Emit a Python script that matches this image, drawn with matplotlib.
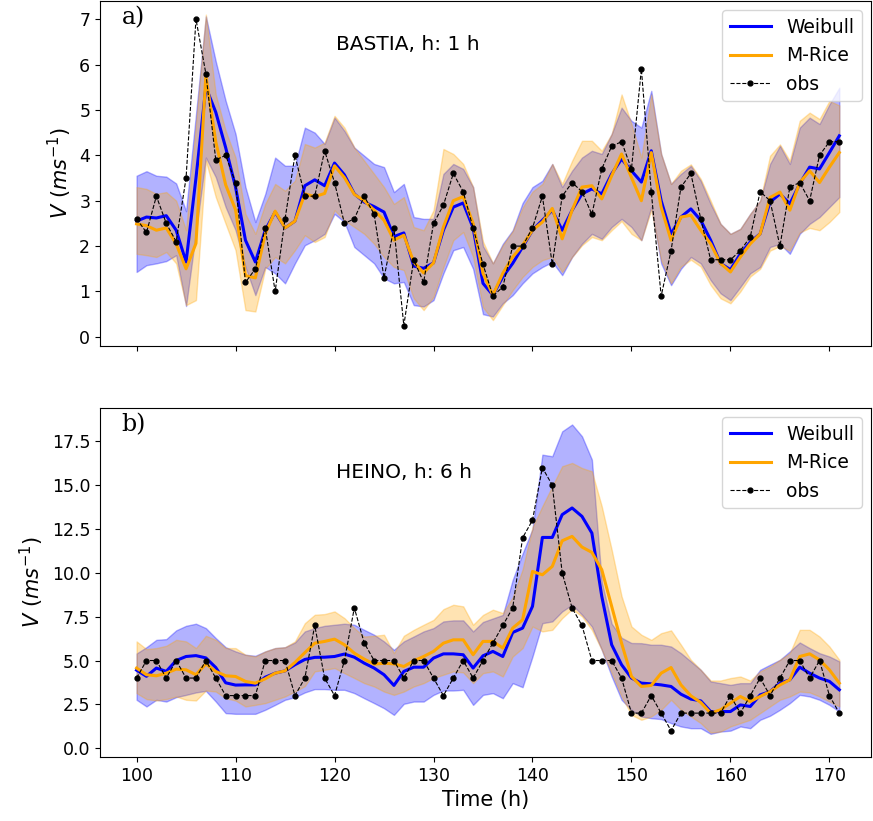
import matplotlib.pyplot as plt
import numpy as np

hours = np.arange(100, 172)

# ---- a) BASTIA, h: 1 h ----
obs_a = [2.6, 2.3, 3.1, 2.5, 2.1, 3.5, 7.0, 5.8, 3.9, 4.0,
         3.4, 1.2, 1.5, 2.4, 1.0, 2.6, 4.0, 3.1, 3.1, 4.1,
         3.4, 2.5, 2.6, 3.1, 2.7, 1.3, 2.4, 0.25, 1.7, 1.2,
         2.5, 2.9, 3.6, 3.2, 2.4, 1.6, 0.9, 1.1, 2.0, 2.0,
         2.4, 3.1, 1.6, 3.1, 3.4, 3.2, 2.7, 3.7, 4.2, 4.3,
         3.7, 5.9, 3.2, 0.9, 1.9, 3.3, 3.6, 2.6, 1.7, 1.7,
         1.7, 1.9, 2.2, 3.2, 3.0, 2.0, 3.3, 3.4, 3.0, 4.0,
         4.3, 4.3]
weib_a = [2.55, 2.64, 2.62, 2.67, 2.35, 1.65, 3.5, 5.5, 4.95, 4.17,
          3.3, 2.13, 1.65, 2.35, 2.75, 2.4, 2.55, 3.33, 3.46, 3.33,
          3.83, 3.57, 3.15, 2.97, 2.87, 2.75, 2.21, 2.29, 1.56, 1.51,
          1.63, 2.35, 2.86, 2.95, 2.4, 1.18, 0.92, 1.32, 1.62, 1.98,
          2.35, 2.57, 2.79, 2.35, 2.79, 3.15, 3.26, 3.15, 3.59, 3.92,
          3.66, 3.41, 4.1, 3.0, 2.27, 2.64, 2.82, 2.57, 2.13, 1.62,
          1.48, 1.83, 2.09, 2.27, 2.97, 3.15, 2.93, 3.37, 3.74, 3.7,
          4.06, 4.43]
weib_a_hi = [3.55, 3.65, 3.55, 3.53, 3.38, 2.77, 4.9, 7.06, 6.07, 5.2,
             4.47, 3.3, 2.53, 3.15, 3.95, 3.77, 3.77, 4.61, 4.5, 4.25,
             4.83, 4.54, 4.17, 3.99, 3.81, 3.74, 3.19, 3.37, 2.64, 2.6,
             2.6, 3.59, 3.81, 3.7, 3.3, 2.0, 1.62, 2.05, 2.35, 2.95,
             3.3, 3.44, 3.81, 3.3, 3.66, 3.95, 4.1, 4.03, 4.47, 5.05,
             4.76, 4.61, 5.42, 4.03, 3.37, 3.59, 3.77, 3.44, 2.93, 2.49,
             2.27, 2.38, 2.71, 3.0, 3.81, 4.21, 3.81, 4.61, 4.83, 4.69,
             5.12, 5.49]
weib_a_lo = [1.43, 1.58, 1.62, 1.67, 1.8, 0.68, 2.3, 3.95, 3.52, 2.86,
             2.35, 1.54, 0.92, 1.54, 1.4, 1.18, 1.62, 2.02, 2.13, 2.27,
             2.71, 2.53, 1.98, 1.8, 1.62, 1.29, 1.18, 1.21, 0.7, 0.67,
             0.81, 1.4, 1.91, 1.98, 1.5, 0.5, 0.45, 0.74, 0.92, 1.18,
             1.4, 1.54, 1.65, 1.36, 1.76, 2.05, 2.27, 2.16, 2.42, 2.6,
             2.42, 2.13, 2.86, 1.62, 1.14, 1.5, 1.76, 1.62, 1.25, 0.96,
             0.81, 1.1, 1.4, 1.54, 1.98, 2.05, 1.83, 2.27, 2.49, 2.64,
             2.86, 3.08]
rice_a = [2.49, 2.45, 2.35, 2.4, 2.05, 1.5, 2.06, 5.75, 4.3, 3.35,
          2.8, 1.35, 1.3, 2.27, 2.77, 2.4, 2.55, 3.15, 3.09, 3.16,
          3.77, 3.51, 3.14, 3.0, 2.79, 2.57, 2.13, 2.24, 1.65, 1.41,
          1.63, 2.42, 3.0, 3.09, 2.5, 1.4, 0.92, 1.4, 1.76, 2.02,
          2.35, 2.53, 2.83, 2.16, 2.79, 3.3, 3.33, 3.04, 3.55, 4.03,
          3.51, 3.0, 4.06, 2.86, 2.13, 2.64, 2.68, 2.35, 2.05, 1.62,
          1.43, 1.76, 2.05, 2.27, 3.07, 3.19, 2.79, 3.4, 3.66, 3.4,
          3.74, 4.06]
rice_a_hi = [3.3, 3.26, 3.15, 3.19, 3.0, 2.35, 4.7, 7.1, 5.34, 4.54,
             3.95, 2.71, 2.27, 2.93, 3.37, 3.22, 3.44, 4.25, 4.17, 4.28,
             4.87, 4.61, 4.17, 3.88, 3.59, 3.3, 2.93, 3.08, 2.42, 2.35,
             2.79, 4.14, 4.03, 3.81, 3.3, 2.1, 1.62, 2.02, 2.33, 2.85,
             3.2, 3.37, 3.81, 3.37, 3.88, 4.32, 4.32, 4.1, 4.47, 5.34,
             4.69, 3.95, 5.34, 4.03, 3.37, 3.66, 3.8, 3.48, 3.0, 2.49,
             2.27, 2.38, 2.71, 3.0, 3.99, 4.24, 3.88, 4.76, 4.94, 4.8,
             5.2, 5.1]
rice_a_lo = [1.83, 1.8, 1.76, 1.87, 1.62, 0.7, 0.81, 3.88, 3.08, 2.49,
             1.91, 0.59, 0.56, 1.5, 1.76, 1.62, 1.91, 2.24, 2.09, 2.2,
             2.79, 2.57, 2.42, 2.27, 2.05, 1.76, 1.54, 1.47, 0.85, 0.59,
             0.88, 1.54, 2.13, 2.31, 1.76, 0.65, 0.37, 0.7, 1.03, 1.32,
             1.54, 1.69, 1.76, 1.43, 1.76, 2.02, 2.2, 2.13, 2.35, 2.55,
             2.27, 2.13, 2.8, 1.69, 1.18, 1.55, 1.7, 1.55, 1.14, 0.85,
             0.74, 1.0, 1.33, 1.5, 1.9, 2.0, 1.9, 2.3, 2.4, 2.35,
             2.53, 2.75]

# ---- b) HEINO, h: 6 h ----
obs_b = [4, 5, 5, 4, 5, 4, 4, 5, 4, 3,
         3, 3, 3, 5, 5, 5, 3, 4, 7, 4,
         3, 5, 8, 6, 5, 5, 5, 4, 5, 5,
         4, 3, 4, 5, 4, 5, 6, 7, 8, 12,
         13, 16, 15, 10, 8, 7, 5, 5, 5, 4,
         2, 2, 3, 2, 1, 2, 2, 2, 2, 2,
         3, 2, 3, 4, 3, 4, 5, 5, 4, 5,
         3, 2]
weib_b = [4.45, 4.1, 4.57, 4.38, 5.0, 5.23, 5.28, 5.15, 4.6, 3.73,
          3.6, 3.61, 3.61, 4.05, 4.28, 4.41, 4.76, 5.06, 5.18, 5.19,
          5.23, 5.37, 5.19, 4.85, 4.57, 4.19, 3.58, 4.38, 4.62, 4.62,
          5.14, 5.38, 5.38, 5.33, 4.57, 5.27, 5.52, 5.23, 6.6, 6.85,
          8.09, 12.02, 12.02, 13.32, 13.7, 13.22, 12.27, 8.66, 5.9, 4.76,
          4.0, 3.71, 3.67, 3.61, 3.52, 3.08, 2.8, 2.7, 2.09, 2.09,
          2.09, 2.47, 2.38, 3.04, 3.23, 3.71, 3.9, 4.62, 4.28, 4.0,
          3.81, 3.33]
weib_b_hi = [5.4, 5.76, 6.18, 6.22, 6.72, 6.98, 7.1, 6.85, 6.28, 5.76,
             5.52, 5.33, 5.27, 5.52, 5.71, 5.76, 6.03, 6.66, 6.85, 6.98,
             7.04, 7.1, 7.04, 6.75, 6.47, 6.09, 5.61, 6.09, 6.37, 6.66,
             6.85, 7.23, 7.29, 7.29, 6.66, 7.2, 7.4, 7.6, 9.6, 11.1,
             12.5, 16.74, 16.65, 18.07, 18.46, 17.79, 16.46, 9.5, 7.1, 6.3,
             6.0, 5.99, 5.9, 5.9, 5.8, 5.42, 4.95, 4.47, 3.81, 3.71,
             3.61, 3.71, 3.71, 4.47, 4.76, 5.04, 5.52, 6.03, 5.71, 5.42,
             5.23, 4.95]
weib_b_lo = [2.76, 2.38, 2.76, 2.66, 2.91, 3.04, 3.18, 3.27, 2.66, 2.0,
             1.96, 1.96, 1.96, 2.19, 2.47, 2.76, 2.91, 3.18, 3.37, 3.37,
             3.33, 3.33, 3.14, 2.85, 2.57, 2.28, 1.9, 2.53, 2.66, 2.66,
             3.04, 3.29, 3.29, 3.33, 2.47, 3.04, 3.14, 2.85, 3.71, 3.48,
             5.23, 7.13, 7.23, 7.8, 8.18, 7.61, 6.94, 5.61, 4.09, 2.76,
             2.19, 1.81, 1.71, 1.66, 1.43, 1.24, 1.14, 1.14, 0.82, 0.95,
             1.0, 1.24, 1.14, 1.62, 1.85, 2.19, 2.57, 3.04, 2.95, 2.76,
             2.47, 2.09]
rice_b = [4.57, 4.19, 4.13, 4.28, 4.51, 4.47, 4.19, 4.81, 4.38, 4.13,
          4.09, 3.81, 3.71, 3.96, 4.28, 4.41, 4.89, 5.45, 5.99, 6.09,
          6.22, 5.9, 5.42, 5.08, 4.79, 4.85, 4.81, 4.66, 4.98, 5.23,
          5.52, 5.99, 6.18, 6.18, 5.33, 6.09, 6.09, 5.71, 6.85, 7.32,
          10.08, 9.89, 10.37, 11.83, 12.08, 11.47, 11.17, 10.18, 8.09, 5.99,
          4.09, 3.52, 3.58, 4.28, 4.6, 3.61, 2.99, 2.61, 2.0, 2.19,
          2.57, 2.95, 2.66, 2.95, 3.23, 3.61, 3.9, 5.23, 5.38, 5.04,
          4.47, 3.71]
rice_b_hi = [6.09, 5.65, 5.71, 5.84, 6.18, 6.09, 5.71, 6.41, 6.18, 5.71,
             5.71, 5.33, 5.23, 5.52, 5.71, 5.76, 6.09, 7.13, 7.61, 7.65,
             7.8, 7.42, 6.85, 6.37, 6.41, 6.47, 5.42, 6.41, 6.75, 7.04,
             7.32, 7.93, 8.18, 8.09, 7.04, 7.6, 7.9, 7.71, 8.6, 10.2,
             12.6, 13.8, 14.94, 16.08, 16.27, 15.98, 15.79, 13.79, 11.32, 8.66,
             6.94, 6.47, 6.18, 6.56, 6.72, 5.9, 5.04, 4.47, 3.86, 3.86,
             4.0, 4.09, 3.86, 4.38, 4.66, 5.04, 5.42, 6.75, 6.75, 6.37,
             5.8, 5.04]
rice_b_lo = [3.14, 2.8, 2.72, 2.8, 2.95, 2.76, 2.72, 3.29, 3.23, 2.85,
             2.72, 2.38, 2.47, 2.57, 2.76, 2.95, 3.23, 3.54, 4.38, 4.47,
             4.57, 4.28, 4.0, 3.71, 3.52, 3.23, 3.04, 3.23, 3.52, 3.71,
             4.0, 4.19, 4.38, 4.32, 3.71, 4.28, 4.38, 4.09, 5.23, 5.71,
             6.94, 6.66, 6.75, 7.42, 7.93, 7.52, 6.75, 5.61, 4.28, 2.95,
             1.9, 1.62, 1.81, 2.19, 2.76, 2.19, 1.81, 1.43, 0.89, 0.95,
             1.24, 1.43, 1.62, 2.0, 2.38, 2.76, 2.95, 3.23, 3.18, 2.95,
             2.66, 2.38]

panels = [
    (obs_a, weib_a, weib_a_lo, weib_a_hi, rice_a, rice_a_lo, rice_a_hi,
     "a)", "BASTIA, h: 1 h", (0.306, 0.875), (-0.2, 7.4)),
    (obs_b, weib_b, weib_b_lo, weib_b_hi, rice_b, rice_b_lo, rice_b_hi,
     "b)", "HEINO, h: 6 h", (0.306, 0.815), (-0.5, 19.4)),
]

fig = plt.figure(figsize=(8.73, 8.21), dpi=100)
ax1 = fig.add_axes([0.1145, 0.5786, 0.8832, 0.4202])
ax2 = fig.add_axes([0.1145, 0.0780, 0.8832, 0.4250])

for ax, (obs, w, wlo, whi, r, rlo, rhi, tag, title, tpos, ylim) in zip([ax1, ax2], panels):
    ax.fill_between(hours, wlo, whi, color="blue", alpha=0.3)
    ax.fill_between(hours, rlo, rhi, color="orange", alpha=0.3)
    ax.plot(hours, w, color="blue", lw=2.2, label="Weibull")
    ax.plot(hours, r, color="orange", lw=2.2, label="M-Rice")
    ax.plot(hours, obs, "k--", lw=0.8, marker="o", ms=3.5, label="obs")
    ax.text(0.028, 0.985, tag, transform=ax.transAxes, va="top",
            fontsize=17, family="DejaVu Serif")
    ax.text(tpos[0], tpos[1], title, transform=ax.transAxes, va="center",
            fontsize=14.5)
    ax.set_ylabel(r"$V\ (ms^{-1})$", fontsize=15)
    ax.set_xlim(96.3, 174.2)
    ax.set_ylim(*ylim)
    ax.tick_params(labelsize=12.5)
    ax.legend(loc="upper right", fontsize=13.5, handlelength=2.2)

ax1.set_yticks(range(0, 8))
ax1.set_xticks(range(100, 171, 10))
ax1.tick_params(labelbottom=False)
ax2.set_yticks(np.arange(0, 17.6, 2.5))
ax2.set_xticks(range(100, 171, 10))
ax2.set_xlabel("Time (h)", fontsize=15)

fig.savefig("out.png", dpi=100)
